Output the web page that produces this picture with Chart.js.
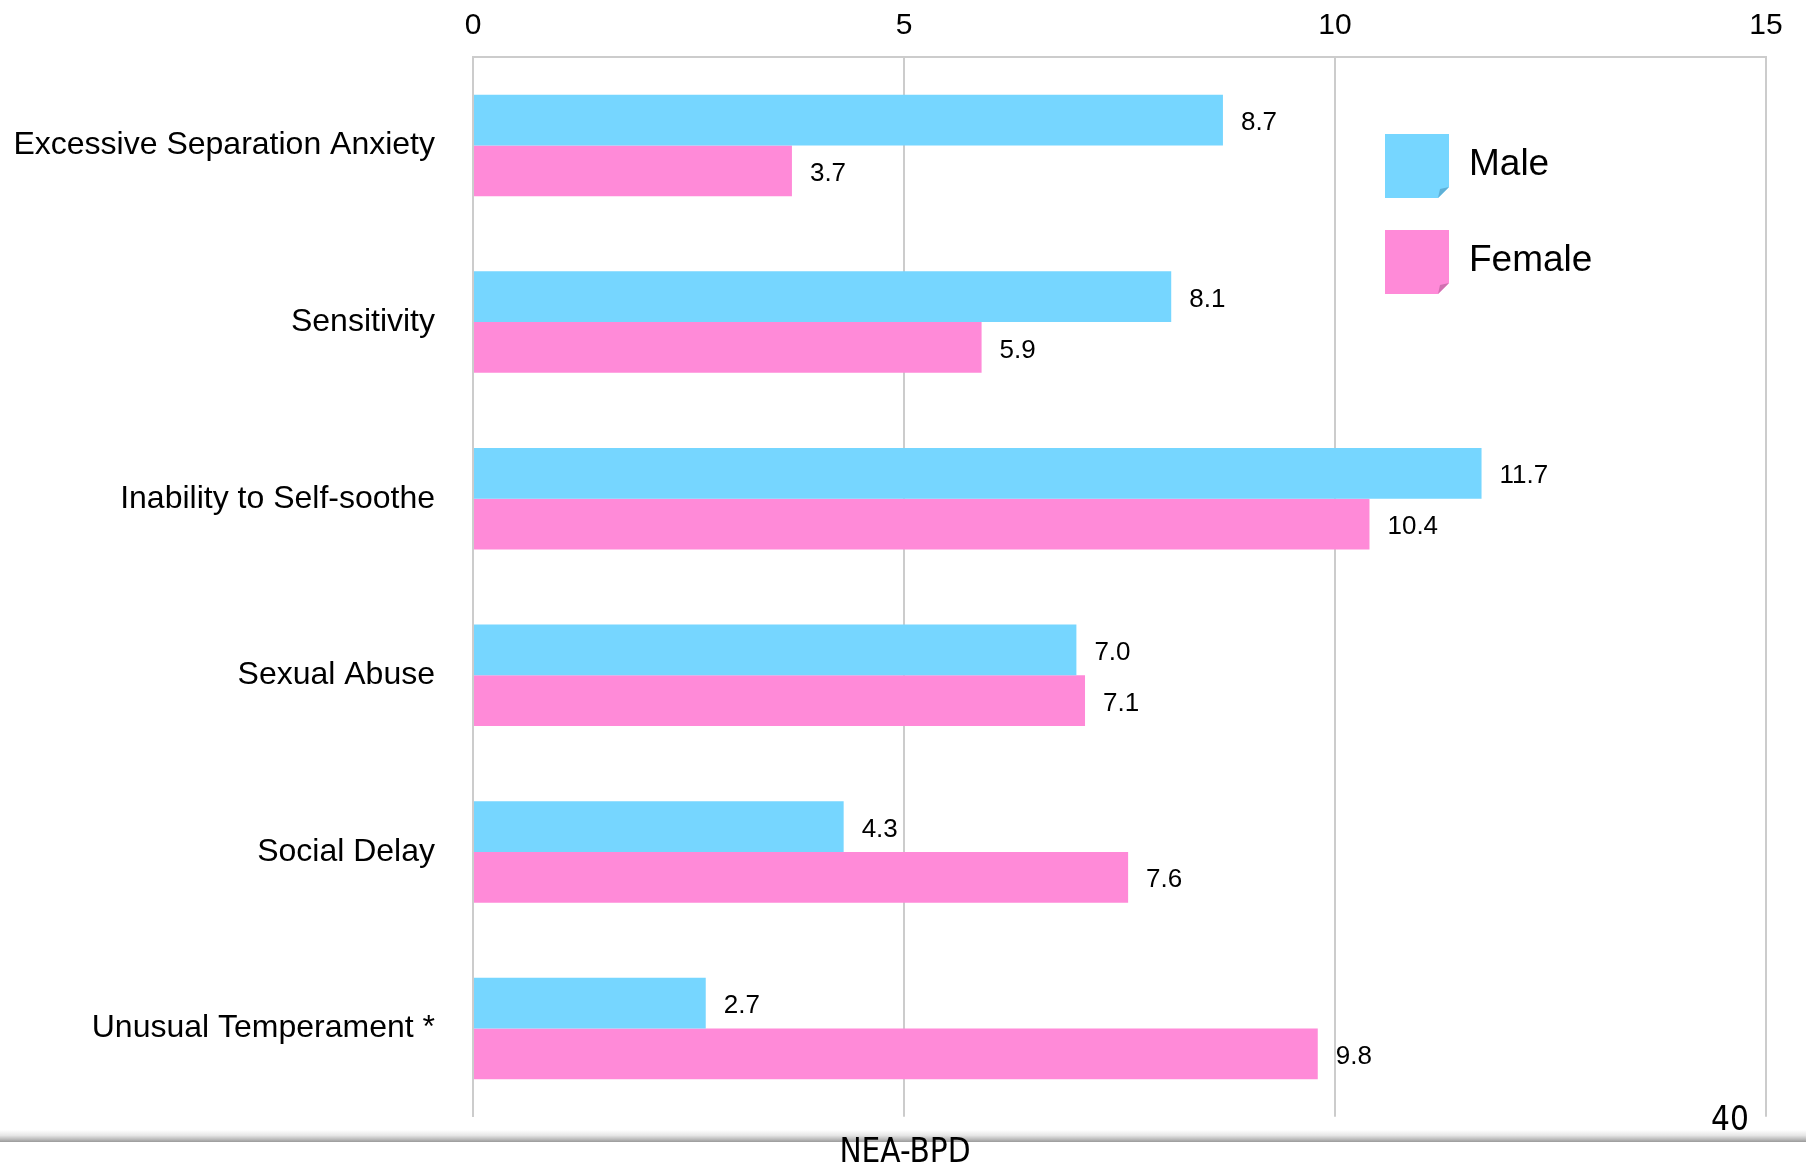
<!DOCTYPE html>
<html>
<head>
<meta charset="utf-8">
<script src="https://cdn.jsdelivr.net/npm/chart.js@4/dist/chart.umd.min.js"></script>
<style>
    body { margin: 0; background: #fff; }
    #wrap { position: relative; width: 1806px; height: 1168px; overflow: hidden; }
    #chart { position: absolute; left: 0; top: 0; }
    #shelf {
        position: absolute; left: 0; top: 1130px; width: 1806px; height: 12px;
        background: linear-gradient(to bottom, #ffffff 0%, #e6e6e6 45%, #b8b8b8 80%, #9a9a9a 100%);
    }
    #pageNum {
        position: absolute; left: 1711px; top: 1099px;
        font: 33px "DejaVu Sans Condensed", "Open Sans", sans-serif; color: #000;
    }
    #footer {
        position: absolute; left: 0; width: 1810px; top: 1131px; text-align: center;
        font: 33px "DejaVu Sans Condensed", "Open Sans", sans-serif; color: #000;
    }
</style>
</head>
<body>
<div id="wrap">
    <canvas id="chart" width="1806" height="1174"></canvas>
    <div id="shelf"></div>
    <div id="pageNum">40</div>
    <div id="footer">NEA-BPD</div>
</div>
<script>
const categories = [
    'Excessive Separation Anxiety',
    'Sensitivity',
    'Inability to Self-soothe',
    'Sexual Abuse',
    'Social Delay',
    'Unusual Temperament *'
];
const maleValues = [8.7, 8.1, 11.7, 7.0, 4.3, 2.7];
const femaleValues = [3.7, 5.9, 10.4, 7.1, 7.6, 9.8];
const xTicks = [0, 5, 10, 15];

const maleColor = '#76d6ff';
const femaleColor = '#ff8ad8';
const labelFont = '"Liberation Sans", Arial, Helvetica, sans-serif';

// value labels to the right of each bar
const valueLabels = {
    id: 'valueLabels',
    afterDatasetsDraw(chart) {
        const ctx = chart.ctx;
        ctx.save();
        ctx.font = '26px ' + labelFont;
        ctx.fillStyle = '#000';
        ctx.textBaseline = 'middle';
        ctx.textAlign = 'left';
        chart.data.datasets.forEach((ds, i) => {
            chart.getDatasetMeta(i).data.forEach((bar, j) => {
                ctx.fillText(ds.data[j].toFixed(1), bar.x + 18, bar.y + 3);
            });
        });
        ctx.restore();
    }
};

// legend with little folded-corner swatches, sitting inside the plot
const cornerLegend = {
    id: 'cornerLegend',
    afterDraw(chart) {
        const ctx = chart.ctx;
        const items = [
            { text: 'Male', color: maleColor, fold: '#5fb0d6', y: 134 },
            { text: 'Female', color: femaleColor, fold: '#d070b0', y: 230 }
        ];
        const x = 1385, size = 64, f = 11;
        ctx.save();
        items.forEach(it => {
            ctx.fillStyle = it.color;
            ctx.beginPath();
            ctx.moveTo(x, it.y);
            ctx.lineTo(x + size, it.y);
            ctx.lineTo(x + size, it.y + size - f);
            ctx.lineTo(x + size - f, it.y + size);
            ctx.lineTo(x, it.y + size);
            ctx.closePath();
            ctx.fill();
            ctx.fillStyle = it.fold;
            ctx.beginPath();
            ctx.moveTo(x + size, it.y + size - f);
            ctx.lineTo(x + size - f, it.y + size);
            ctx.lineTo(x + size - f + 2, it.y + size - f + 2);
            ctx.closePath();
            ctx.fill();
            ctx.fillStyle = '#000';
            ctx.font = '37px ' + labelFont;
            ctx.textBaseline = 'middle';
            ctx.fillText(it.text, x + 84, it.y + size / 2 - 1);
        });
        ctx.restore();
    }
};

new Chart(document.getElementById('chart'), {
    type: 'bar',
    data: {
        labels: categories,
        datasets: [
            { label: 'Male', data: maleValues, backgroundColor: maleColor },
            { label: 'Female', data: femaleValues, backgroundColor: femaleColor }
        ]
    },
    options: {
        indexAxis: 'y',
        responsive: false,
        animation: false,
        layout: { padding: { top: 0, right: 40, bottom: 46, left: 0 } },
        datasets: { bar: { categoryPercentage: 0.575, barPercentage: 1.0 } },
        plugins: {
            legend: { display: false },
            tooltip: { enabled: false }
        },
        scales: {
            x: {
                position: 'top',
                min: 0,
                max: 15,
                afterBuildTicks(scale) { scale.ticks = xTicks.map(v => ({ value: v })); },
                afterFit(scale) { scale.height = 56; },
                grid: { color: '#cccccc', lineWidth: 2, drawTicks: false },
                border: { color: '#cccccc', width: 2 },
                ticks: { padding: 13, color: '#000', font: { size: 30, family: labelFont } }
            },
            y: {
                afterFit(scale) { scale.width = 473; },
                grid: { display: false, drawTicks: false },
                border: { color: '#cccccc', width: 2 },
                ticks: { padding: 38, color: '#000', font: { size: 32, family: labelFont } }
            }
        }
    },
    plugins: [valueLabels, cornerLegend]
});
</script>
</body>
</html>
